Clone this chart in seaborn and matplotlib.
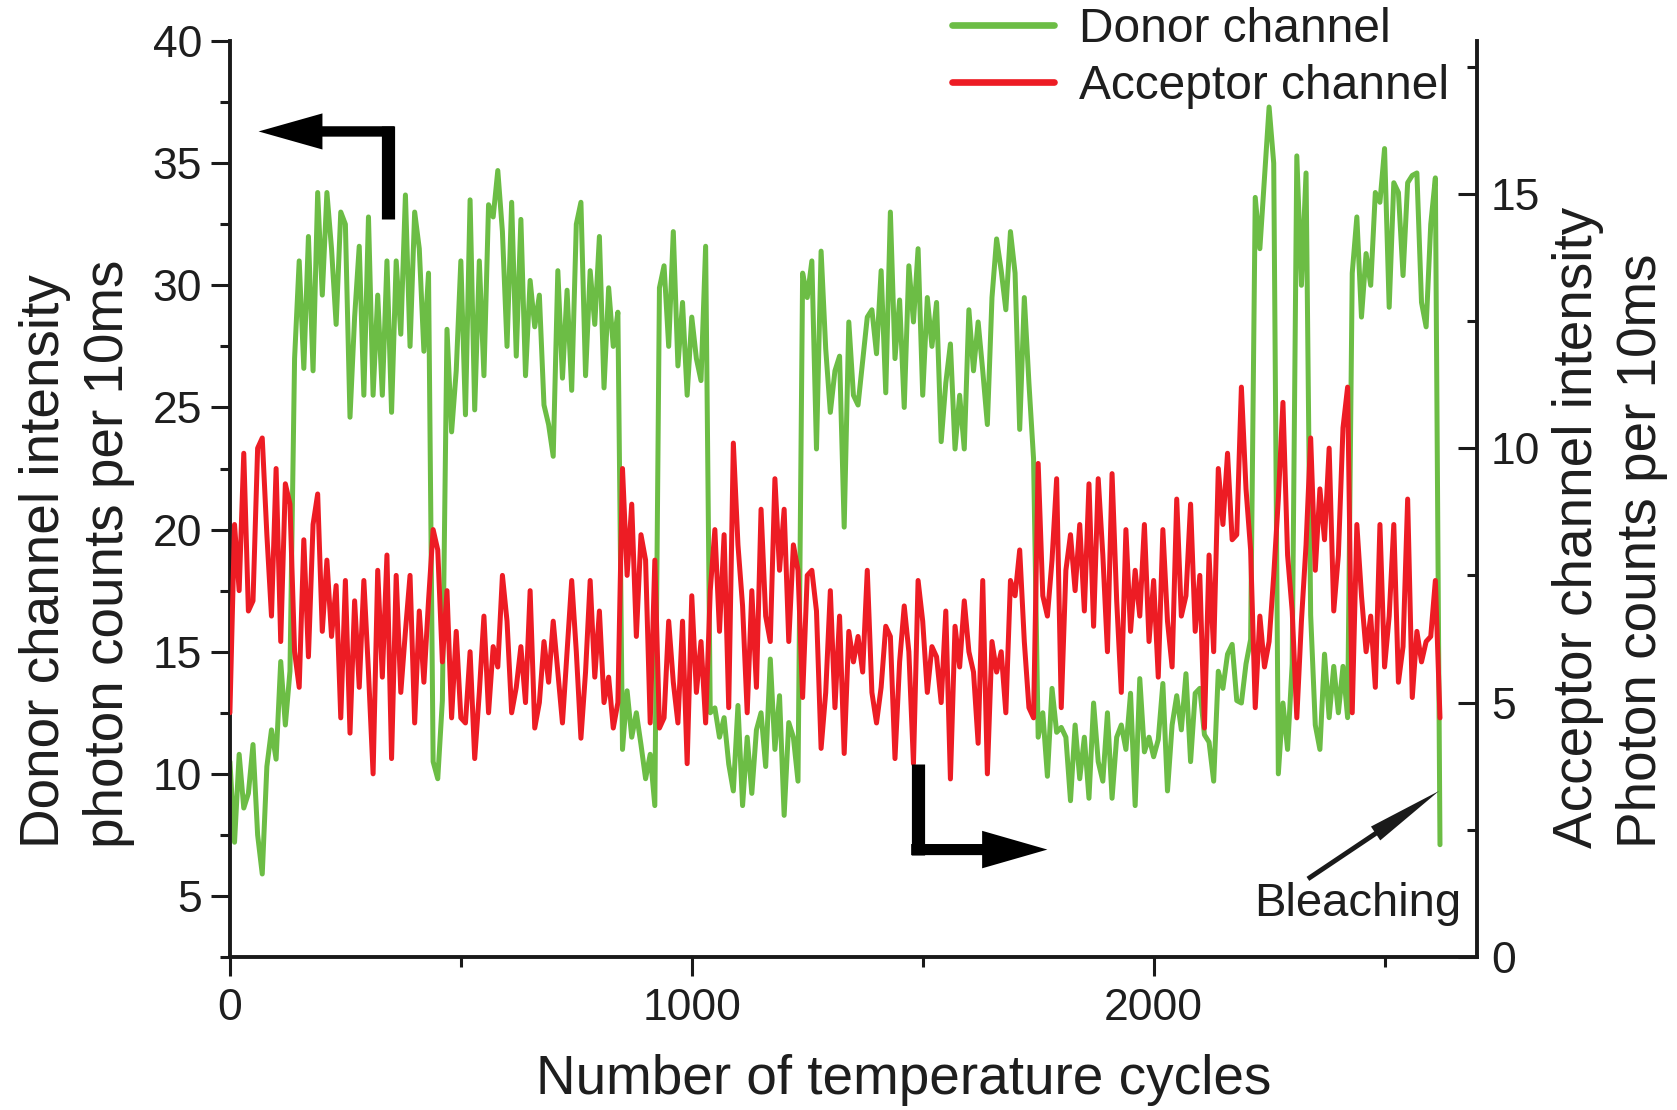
import numpy as np
import pandas as pd
import matplotlib
matplotlib.use("Agg")
import matplotlib.pyplot as plt
from matplotlib.lines import Line2D
from matplotlib.ticker import MultipleLocator
import seaborn as sns

# ---------------- data (one value every 10 cycles) ----------------
cycles = np.arange(0, 2621, 10)

donor = [
    10.5, 7.2, 10.8, 8.6, 9.2, 11.2, 7.5, 5.9, 10.3, 11.8, 10.6, 14.6, 12.0, 14.2,
    27.0, 31.0, 26.6, 32.0, 26.5, 33.8, 29.6, 33.8, 31.5, 28.4, 33.0, 32.5, 24.6, 28.7, 31.6, 25.5,
    32.8, 25.5, 29.6, 25.5, 31.0, 24.8, 31.0, 28.0, 33.7, 27.5, 33.0, 31.5, 27.3, 30.5,
    10.5, 9.8, 13.0,
    28.2, 24.0, 26.5, 31.0, 24.7, 33.5, 24.9, 31.0, 26.3, 33.3, 32.8, 34.7, 32.2, 27.5, 33.4, 27.1,
    32.7, 26.3, 30.2, 28.3, 29.6, 25.1, 24.3, 23.0, 30.6, 26.2, 29.8, 25.7, 32.5, 33.4, 26.3, 30.6,
    28.4, 32.0, 25.8, 29.9, 27.5, 28.9,
    11.0, 13.4, 11.5, 12.5, 11.2, 9.8, 10.8, 8.7,
    29.9, 30.8, 27.5, 32.2, 26.7, 29.3, 25.5, 28.7, 27.0, 26.1, 31.6,
    12.5, 12.7, 11.5, 12.3, 10.4, 9.3, 12.8, 8.7, 11.5, 9.2, 11.8, 12.5, 10.3, 14.7, 11.0, 13.2,
    8.3, 12.1, 11.5, 9.7,
    30.5, 29.5, 31.0, 23.3, 31.4, 27.4, 24.8, 26.5, 27.1, 20.1, 28.5, 25.5,
    25.1, 26.9, 28.7, 29.0, 27.2, 30.6, 25.6, 33.0, 27.0, 29.4, 25.0, 30.8, 28.5, 31.5, 25.5, 29.5,
    27.5, 29.3, 23.6, 26.0, 27.6, 23.3, 25.5, 23.3, 29.0, 26.5, 28.5, 26.5, 24.3, 29.5, 31.9, 30.6,
    29.0, 32.2, 30.5, 24.1, 29.5, 26.0, 22.9,
    11.5, 12.5, 9.9, 13.5, 11.7, 11.9, 11.5, 8.9, 12.0, 9.8, 11.5, 9.0, 12.9, 10.5, 9.7, 12.5,
    9.0, 11.5, 12.0, 11.0, 13.3, 8.7, 13.9, 10.9, 11.5, 10.7, 11.4, 13.7, 9.3, 12.0, 13.2, 11.8,
    14.1, 10.5, 13.3, 13.5, 11.6, 11.3, 9.7, 14.2, 13.5, 14.9, 15.3, 13.0, 12.9, 14.5, 15.5,
    33.6, 31.5, 34.4, 37.3, 35.0,
    10.0, 12.9, 11.0, 14.5, 35.3, 30.0, 34.6, 16.5, 12.0, 11.0, 14.9, 12.3, 14.4, 12.5, 14.4, 12.3,
    30.5, 32.8, 28.7, 31.3, 30.0, 33.8, 33.4, 35.6, 29.1, 34.2, 33.8, 30.4, 34.2, 34.5, 34.6, 29.3,
    28.3, 32.5, 34.4, 7.1,
]

acceptor = [
    4.8, 8.5, 7.2, 9.9, 6.8, 7.0, 10.0, 10.2, 8.3, 6.7, 9.6, 6.2, 9.3, 8.9,
    6.0, 5.3, 8.2, 5.9, 8.5, 9.1, 6.4, 7.8, 6.3, 7.3, 4.7, 7.4, 4.4, 7.0, 5.3, 7.4,
    5.6, 3.6, 7.6, 5.5, 7.9, 3.9, 7.5, 5.2, 6.4, 7.5, 4.6, 6.8, 5.4, 7.0,
    8.4, 8.0, 5.8, 7.2, 4.7, 6.4, 4.7, 4.6, 6.0, 3.9, 5.2, 6.7, 4.8, 6.1, 5.7, 7.5,
    6.6, 4.8, 5.3, 6.1, 5.0, 7.2, 4.5, 5.0, 6.2, 5.4, 6.6, 5.6, 4.6, 6.0, 7.4, 6.0,
    4.3, 5.6, 7.4, 5.5, 6.8, 5.0, 5.5, 4.5, 5.0,
    9.6, 7.5, 8.9, 6.3, 8.3,
    7.8, 4.6, 7.8, 4.5, 4.7, 6.6, 5.4, 4.6, 6.6, 3.8, 7.1, 5.2, 6.2, 4.6, 7.2, 8.4,
    6.4, 8.3, 4.9, 10.1, 8.1, 6.9, 4.8, 7.2, 5.3, 8.8, 6.7, 6.2, 9.4, 7.6, 8.8, 6.2,
    8.1, 7.6, 5.1, 7.5, 7.6, 6.8, 4.1, 5.2, 7.2, 4.9, 6.7, 4.0, 6.4, 5.8,
    6.3, 5.6, 7.6, 5.2, 4.6, 5.3, 6.5, 6.3, 3.9, 5.8, 6.9, 6.0, 3.8, 7.4, 6.6, 5.2,
    6.1, 5.9, 5.0, 6.8, 3.5, 6.5, 5.7, 7.0, 6.0, 5.6, 4.2, 7.4, 3.6, 6.2, 5.6, 6.0,
    4.8, 7.4, 7.1, 8.0, 6.2, 4.9, 4.7,
    9.7, 7.1, 6.7, 7.8, 9.4, 4.9, 7.6, 8.3, 7.2, 8.5, 6.8, 9.3, 6.5, 9.4, 7.9, 6.0,
    9.5, 7.0, 5.2, 8.4, 6.4, 7.6, 6.7, 8.5, 6.2, 7.4, 5.5, 8.4, 6.6, 5.7, 9.0, 6.7,
    7.1, 8.9, 6.4, 7.5, 4.5, 7.9, 6.0, 9.6, 8.5, 9.9, 8.2, 8.3, 11.2, 9.2, 8.0, 4.9,
    6.7, 5.7, 6.2, 7.5, 9.0,
    10.9, 7.9, 6.8, 4.7, 6.6, 8.1, 10.2, 7.6, 9.2, 8.2, 10.0, 6.8, 7.9, 10.4, 11.2, 4.8,
    8.5, 7.1, 6.0, 6.7, 5.3, 8.5, 5.7, 6.7, 8.5, 5.4, 6.1, 9.0, 5.1, 6.4, 5.8, 6.2,
    6.3, 7.4, 4.7,
]

x_ticks = [0, 1000, 2000]
left_ticks = [5, 10, 15, 20, 25, 30, 35, 40]
right_ticks = [0, 5, 10, 15]
series_labels = ["Donor channel", "Acceptor channel"]
x_label = "Number of temperature cycles"
left_label = "Donor channel intensity\nphoton counts per 10ms"
right_label = "Acceptor channel intensity\nPhoton counts per 10ms"
note_text = "Bleaching"

# ---------------- style ----------------
GREEN = "#6cbd45"
RED = "#ed1c24"
INK = "#1e1e1e"
SPINE = "#1a1a1a"

sns.set_theme(style="ticks")
plt.rcParams["font.family"] = ["Liberation Sans", "DejaVu Sans"]

df = pd.DataFrame({"cycle": cycles, "donor": donor, "acceptor": acceptor})

fig = plt.figure(figsize=(16.77, 11.10), dpi=100)
ax = fig.add_axes([0.1371, 0.1378, 0.7436, 0.8252])
ax2 = ax.twinx()

sns.lineplot(data=df, x="cycle", y="donor", ax=ax, color=GREEN, lw=3.6)
sns.lineplot(data=df, x="cycle", y="acceptor", ax=ax2, color=RED, lw=3.6)

ax.set_xlim(0, 2700)
ax.set_ylim(2.5, 40)
ax2.set_ylim(0, 18)

ax.set_xticks(x_ticks)
ax.set_xticklabels([str(t) for t in x_ticks])
ax.xaxis.set_minor_locator(MultipleLocator(500))
ax.set_yticks(left_ticks)
ax.set_yticklabels([str(t) for t in left_ticks])
ax.yaxis.set_minor_locator(MultipleLocator(2.5))
ax2.set_yticks(right_ticks)
ax2.set_yticklabels([str(t) for t in right_ticks])
ax2.yaxis.set_minor_locator(MultipleLocator(2.5))

ax.set_xlabel("")
ax.set_ylabel("")
ax2.set_ylabel("")

for a in (ax, ax2):
    a.spines["top"].set_visible(False)
    for s in a.spines.values():
        s.set_linewidth(2.8)
        s.set_color(SPINE)
ax.spines["right"].set_visible(False)
ax2.spines["left"].set_visible(False)
ax2.spines["bottom"].set_visible(False)

ax.tick_params(axis="both", which="major", direction="out", length=14, width=2.2,
               color=SPINE, labelsize=32, labelcolor=INK, pad=6)
ax.tick_params(axis="both", which="minor", direction="out", length=7, width=2.2, color=SPINE)
ax.tick_params(axis="x", which="major", pad=8)
ax2.tick_params(axis="y", which="major", direction="in", length=14, width=2.2,
                color=SPINE, labelsize=32, labelcolor=INK, pad=10)
ax2.tick_params(axis="y", which="minor", direction="in", length=7, width=2.2, color=SPINE)

# ---------------- axis titles ----------------
fig.text(0.539, 0.014, x_label, ha="center", va="baseline", fontsize=39.5, color=INK)
fig.text(0.0462, 0.236, left_label, rotation=90, ha="center", va="bottom",
         multialignment="left", fontsize=39.5, color=INK, linespacing=1.3)
fig.text(0.9598, 0.236, right_label, rotation=90, ha="center", va="bottom",
         multialignment="left", fontsize=39.5, color=INK, linespacing=1.3)

# ---------------- legend ----------------
handles = [Line2D([], [], color=GREEN, lw=4.8), Line2D([], [], color=RED, lw=4.8)]
fig.legend(handles, series_labels, loc="upper left", bbox_to_anchor=(0.5677, 0.994),
           frameon=False, fontsize=34.5, handlelength=2.13, handletextpad=0.52,
           labelspacing=0.26, borderpad=0, borderaxespad=0, labelcolor=INK)

# ---------------- axis-pointer arrows (in left-axis data coords) ----------------
tr = ax.transData
# left arrow: vertical bar then arrow pointing to the left axis
ax2.plot([342, 342], [32.7, 36.52], color="black", lw=9.5, solid_capstyle="butt",
         transform=tr, zorder=10)
ax2.annotate("", xy=(62, 36.3), xytext=(356, 36.3), xycoords=tr, textcoords=tr,
             arrowprops=dict(arrowstyle="simple,head_length=46,head_width=26,tail_width=7.5",
                             mutation_scale=1, color="black", lw=0, shrinkA=0, shrinkB=0),
             zorder=10)
# right arrow: vertical bar then arrow pointing to the right axis
ax2.plot([1489, 1489], [10.4, 6.68], color="black", lw=9.5, solid_capstyle="butt",
         transform=tr, zorder=10)
ax2.annotate("", xy=(1770, 6.9), xytext=(1475, 6.9), xycoords=tr, textcoords=tr,
             arrowprops=dict(arrowstyle="simple,head_length=47,head_width=27,tail_width=8",
                             mutation_scale=1, color="black", lw=0, shrinkA=0, shrinkB=0),
             zorder=10)

# bleaching note
ax2.text(2217, 4.69, note_text, transform=tr, ha="left", va="center",
         fontsize=34, color=INK, zorder=11)
ax2.annotate("", xy=(2618, 9.3), xytext=(2334, 5.7), xycoords=tr, textcoords=tr,
             arrowprops=dict(arrowstyle="simple,head_length=55,head_width=12,tail_width=3.5",
                             mutation_scale=1, color="#1a1a1a", lw=0, shrinkA=0, shrinkB=0),
             zorder=11)

fig.savefig("out.png", dpi=100)
